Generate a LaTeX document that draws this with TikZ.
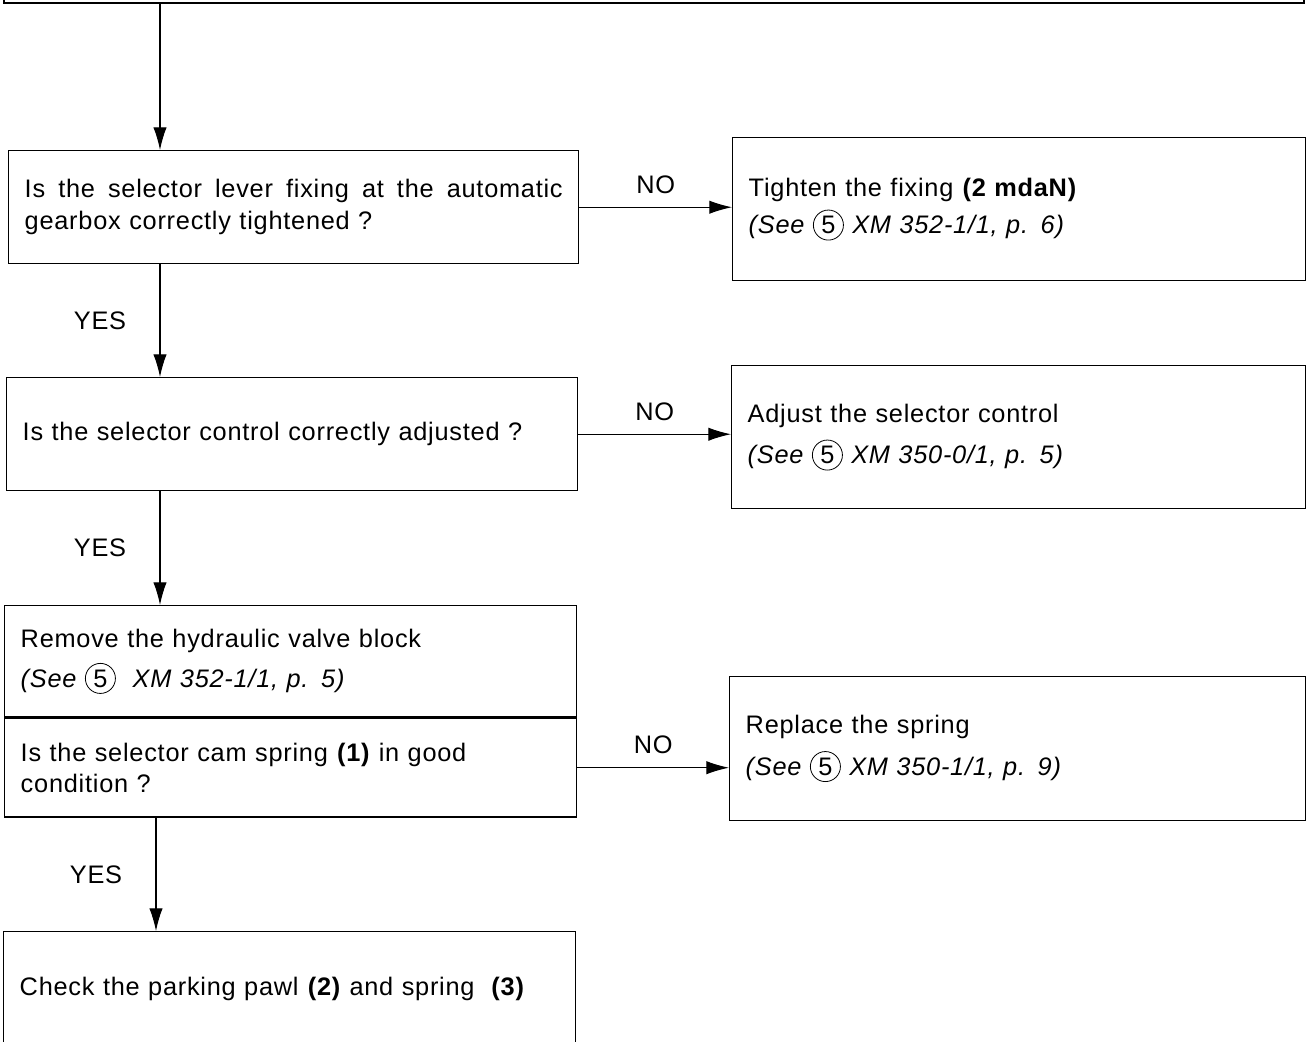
\documentclass[tikz,border=0pt]{standalone}
\usepackage{fontspec}
\setmainfont{Liberation Sans}[LetterSpace=3.0]
\usetikzlibrary{positioning,arrows.meta}
\newcommand{\circnum}[1]{\tikz[baseline=(cn.base)]\node[draw,circle,anchor=center,minimum width=0pt,minimum height=0pt,text width={},inner sep=2pt,line width=0.6pt,font=\upshape](cn){#1};}

\begin{document}
\begin{tikzpicture}[x=0.75pt,y=-0.75pt,font=\fontsize{19}{24}\selectfont]
        \tikzstyle{box}=[draw,line width=1.1pt,anchor=north west,inner xsep=12pt,inner ysep=0pt,align=left]
        \tikzstyle{arrow}=[line width=0.8pt,-{Latex[length=17pt,width=10pt]}]
        \tikzstyle{lbl}=[inner sep=0pt]
        \useasboundingbox (0,0) rectangle (1308,1041);
        \clip (0,0) rectangle (1308,1041);
        \node[box,line width=1.6pt,anchor=south west,minimum width=975pt,minimum height=60pt] (prev) at (3,4) {};
        % questions on the left
        \node[box,text width=403.5pt,minimum height=84.75pt] (q1) at (8,150)
            {\makebox[403.5pt][s]{\spaceskip=5pt plus 20pt Is the selector lever fixing at the automatic}\\gearbox correctly tightened ?};
        \node[box,text width=404.25pt,minimum height=84.75pt] (q2) at (6,377)
            {Is the selector control correctly adjusted ?};
        \node[box,text width=405pt,minimum height=83.25pt] (remove) at (4,605)
            {Remove the hydraulic valve block\\[6pt]\textit{(See \circnum{5}\ \ XM 352-1/1, p. 5)}};
        \node[box,text width=405pt,minimum height=74.25pt,below=0pt of remove] (cam)
            {Is the selector cam spring \textbf{(1)} in good\\[-1pt]condition ?};
        \node[box,text width=405pt,minimum height=85.5pt] (check) at (3,931)
            {Check the parking pawl \textbf{(2)} and spring \ \textbf{(3)}};
        % actions on the right
        \node[box,text width=405.75pt,minimum height=107.25pt] (fix) at (732,137)
            {Tighten the fixing \textbf{(2 mdaN)}\\[4pt]\textit{(See \circnum{5} XM 352-1/1, p. 6)}};
        \node[box,text width=406.5pt,minimum height=107.25pt] (adjust) at (731,365)
            {Adjust the selector control\\[7pt]\textit{(See \circnum{5} XM 350-0/1, p. 5)}};
        \node[box,text width=408pt,minimum height=108pt] (spring) at (729,676)
            {Replace the spring\\[7pt]\textit{(See \circnum{5} XM 350-1/1, p. 9)}};
        % connectors
        \coordinate (t1) at ([xshift=114pt]q1.north west);
        \coordinate (t2) at ([xshift=114.75pt]check.north west);
        \draw[arrow] (t1 |- prev.south) -- (t1);
        \draw[arrow] (q1.south -| t1) -- node[lbl,left=25pt] (yes1) {YES} (q2.north -| t1);
        \draw[arrow] (q2.south -| t1) -- node[lbl,left=25pt] (yes2) {YES} (remove.north -| t1);
        \draw[arrow] (cam.south -| t2) -- node[lbl,left=25pt] (yes3) {YES} (t2);
        \draw[arrow] (q1.east) -- node[lbl,above=10pt] (no1) {NO} (q1.east -| fix.west);
        \draw[arrow] (q2.east) -- node[lbl,above=10pt] (no2) {NO} (q2.east -| adjust.west);
        \draw[arrow] (cam.east) -- node[lbl,above=10pt] (no3) {NO} (cam.east -| spring.west);
\end{tikzpicture}
\end{document}
